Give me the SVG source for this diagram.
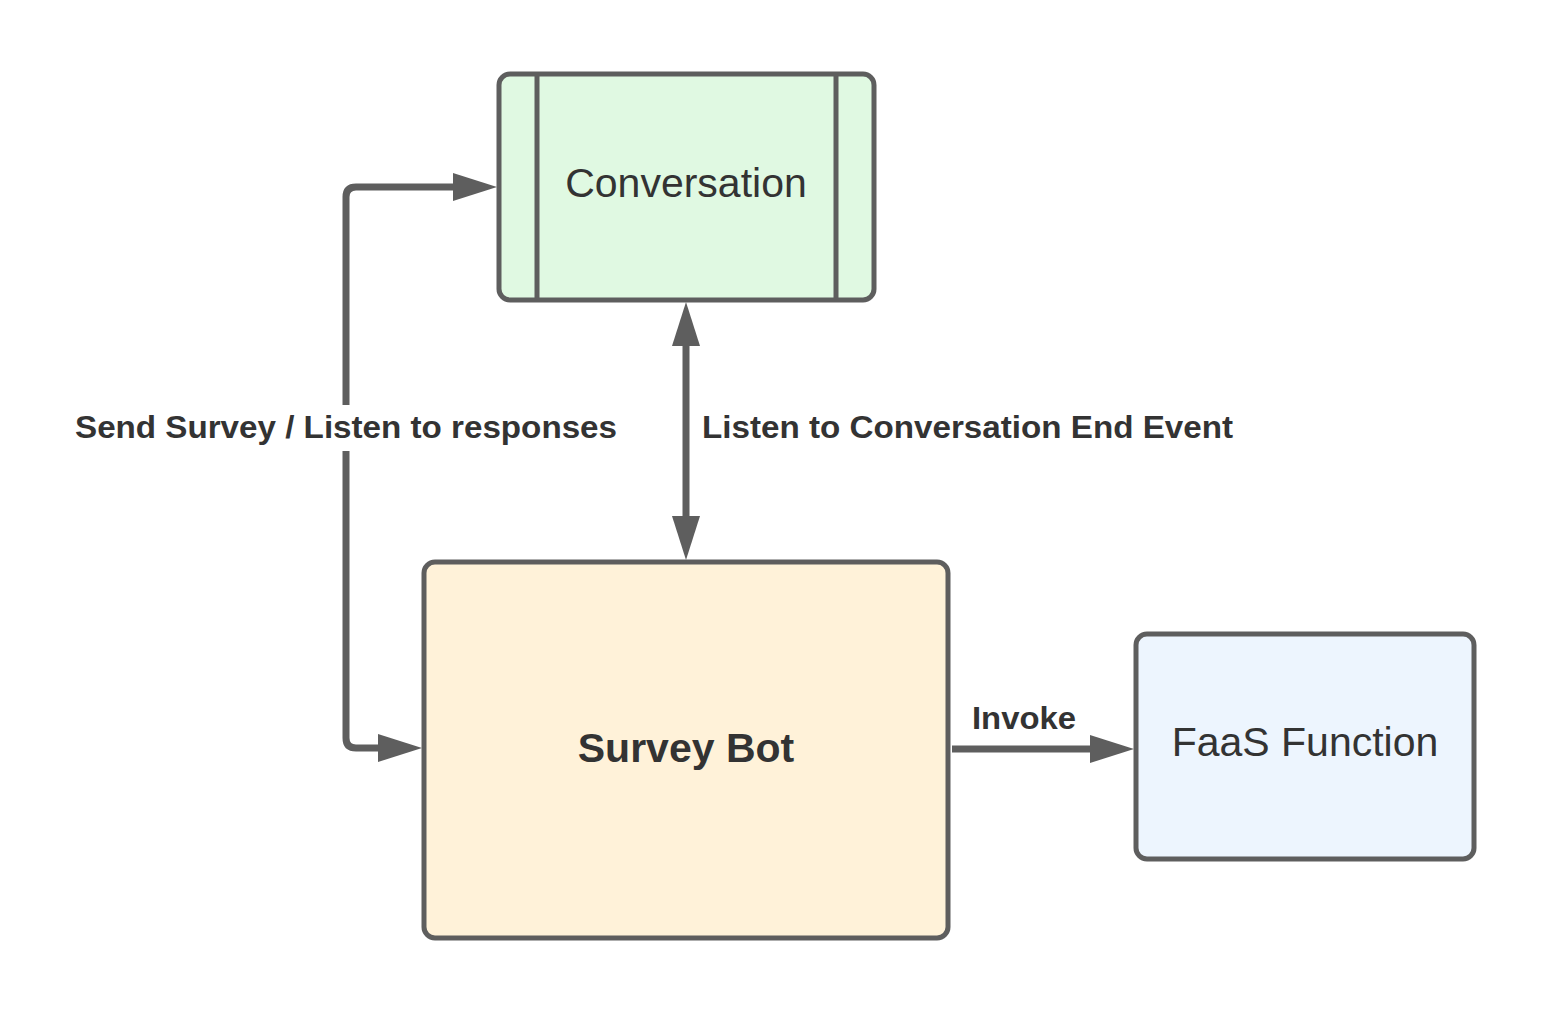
<svg xmlns="http://www.w3.org/2000/svg" width="1549" height="1013" viewBox="0 0 1549 1013">
<defs>
<style>
.box{stroke:#5e5e5e;stroke-width:5;}
.conn{fill:none;stroke:#5e5e5e;stroke-width:7;stroke-linejoin:round;}
.head{fill:#5e5e5e;}
.t{font-family:"Liberation Sans",Arial,sans-serif;fill:#333333;text-anchor:middle;}
.lbl{font-family:"Liberation Sans",Arial,sans-serif;font-weight:bold;font-size:32px;fill:#333333;}
</style>
</defs>
<rect width="1549" height="1013" fill="#ffffff"/>
<g id="connectors">
<path class="conn" d="M378,748 H356 Q346,748 346,738 V197 Q346,187 356,187 H455"/>
<polygon class="head" points="497,187 453,173 453,201"/>
<polygon class="head" points="422,748 378,734 378,762"/>
<path class="conn" d="M686,344 V518"/>
<polygon class="head" points="686,302 672,346 700,346"/>
<polygon class="head" points="686,560 672,516 700,516"/>
<path class="conn" d="M952,749 H1092"/>
<polygon class="head" points="1134,749 1090,735 1090,763"/>
<rect x="70" y="405" width="552" height="46" fill="#ffffff"/>
<text class="lbl" x="75" y="438" textLength="542" lengthAdjust="spacingAndGlyphs">Send Survey / Listen to responses</text>
<text class="lbl" x="702" y="438" textLength="531" lengthAdjust="spacingAndGlyphs">Listen to Conversation End Event</text>
<text class="lbl" x="972" y="729" textLength="104" lengthAdjust="spacingAndGlyphs">Invoke</text>
</g>
<g id="conversation">
<rect class="box" x="499" y="74" width="375" height="226" rx="11" fill="#e0f9e2"/>
<line class="box" x1="537" y1="74" x2="537" y2="300"/>
<line class="box" x1="836" y1="74" x2="836" y2="300"/>
<text class="t" x="686" y="197" font-size="41">Conversation</text>
</g>
<g id="survey-bot">
<rect class="box" x="424" y="562" width="524" height="376" rx="11" fill="#fff2d9"/>
<text class="t" x="686" y="762" font-size="41" font-weight="bold">Survey Bot</text>
</g>
<g id="faas-function">
<rect class="box" x="1136" y="634" width="338" height="225" rx="11" fill="#edf5fe"/>
<text class="t" x="1305" y="756" font-size="41">FaaS Function</text>
</g>
</svg>
